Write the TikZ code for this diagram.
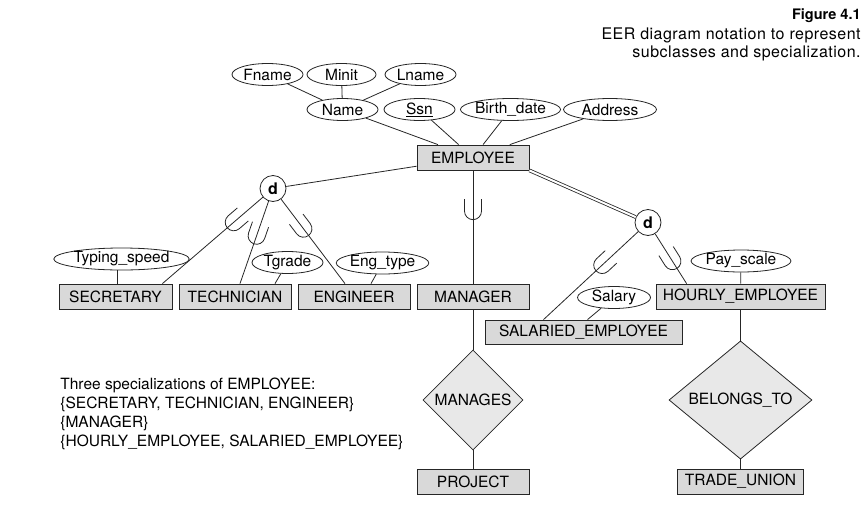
\documentclass[tikz,border=0pt]{standalone}
\usepackage{fontspec}
\setmainfont{TeX Gyre Heros}
\usetikzlibrary{shapes.geometric}

\tikzset{
	entity/.style={draw, fill=gray!30, minimum height=25pt, inner sep=0pt},
	attrib/.style={draw, ellipse, minimum height=22pt, inner sep=0pt},
	relship/.style={draw, diamond, fill=gray!18, minimum height=100pt, inner sep=0pt},
	disjoint/.style={draw, circle, fill=white, minimum size=26pt, inner sep=0pt, font=\fontsize{16}{18}\selectfont\bfseries},
	subsetmark/.pic={\draw (-12,8.5) -- (0,8.5) arc[start angle=90, end angle=-90, radius=8.5] -- (-12,-8.5);},
	subset/.style={pos=#1, sloped, allow upside down},
}

\begin{document}
\begin{tikzpicture}[x=1pt, y=-1pt, line width=0.8pt, draw=black!85, font=\fontsize{15.5}{18}\selectfont]
	\useasboundingbox (0,0) rectangle (865,509);
	%\draw[lightgray, step=50] (0,0) grid (865,509);
	% caption
	\node[anchor=north east, inner sep=0pt, font=\fontsize{14.5}{16}\selectfont\bfseries] (fig) at (861,8) {Figure 4.1};
	\node[anchor=north east, align=right, inner sep=0pt, font=\fontsize{16}{18}\selectfont\addfontfeature{LetterSpace=3}] (caption) at (861,27) {EER diagram notation to represent\\subclasses and specialization.};
	% employee and its attributes
	\node[entity, minimum width=112pt] (employee) at (473,157.5) {EMPLOYEE};
	\node[attrib, minimum width=71pt] (fname) at (267.5,74.5) {Fname};
	\node[attrib, minimum width=69pt] (minit) at (341.5,74.5) {Minit};
	\node[attrib, minimum width=71pt] (lname) at (420.5,74.5) {Lname};
	\node[attrib, minimum width=71pt] (name) at (342.5,109.5) {Name};
	\node[attrib, minimum width=71pt] (ssn) at (419.5,109.5) {\underline{Ssn}};
	\node[attrib, minimum width=99pt] (bdate) at (510.5,109.5) {Birth\_date};
	\node[attrib, minimum width=93pt] (address) at (610,109.5) {Address};
	\draw (fname) -- (name);
	\draw (minit) -- (name);
	\draw (lname) -- (name);
	\draw (name) -- (employee);
	\draw (ssn) -- (employee);
	\draw (bdate) -- (employee);
	\draw (address) -- (employee);
	% subclasses
	\node[disjoint] (d1) at (273,188.5) {d};
	\node[disjoint] (d2) at (648,222.5) {d};
	\node[entity, minimum width=113pt] (secretary) at (115.5,296.5) {SECRETARY};
	\node[entity, minimum width=112pt] (technician) at (235,296.5) {TECHNICIAN};
	\node[entity, minimum width=112pt] (engineer) at (354,296.5) {ENGINEER};
	\node[entity, minimum width=112pt] (manager) at (473,296.5) {MANAGER};
	\node[entity, minimum width=169pt] (hourly) at (740.5,296.5) {HOURLY\_EMPLOYEE};
	\node[entity, minimum width=197pt, minimum height=24pt] (salaried) at (583.5,332) {SALARIED\_EMPLOYEE};
	\node[attrib, minimum width=120pt] (typing) at (121.5,259) {Typing\_speed};
	\node[attrib, minimum width=71pt] (tgrade) at (287.5,262.5) {Tgrade};
	\node[attrib, minimum width=91pt] (engtype) at (382.5,263) {Eng\_type};
	\node[attrib, minimum width=93pt] (payscale) at (741,261) {Pay\_scale};
	\node[attrib, minimum width=73pt] (salary) at (614,297.5) {Salary};
	\draw (employee) -- (d1);
	\draw[double, double distance=2pt] (employee.south east) -- (d2);
	\draw (d1) -- pic[subset=.29]{subsetmark} ([xshift=-10pt]secretary.north east);
	\draw (d1) -- pic[subset=.42]{subsetmark} ([xshift=5pt]technician.north);
	\draw (d1) -- pic[subset=.35]{subsetmark} ([xshift=-9pt]engineer.north);
	\draw (employee) -- pic[subset=.36]{subsetmark} (manager);
	\draw (d2) -- pic[subset=.38]{subsetmark} ([xshift=-40pt]salaried.north);
	\draw (d2) -- pic[subset=.55]{subsetmark} ([xshift=31pt]hourly.north west);
	\draw ([xshift=-4pt]typing.south) -- ([xshift=2pt]secretary.north);
	\draw (tgrade) -- ([xshift=40pt]technician.north);
	\draw (engtype) -- ([xshift=17pt]engineer.north);
	\draw (payscale) -- (hourly);
	\draw (salary) -- ([xshift=4pt]salaried.north);
	% relationships
	\node[relship, minimum width=100pt] (manages) at (473,400) {MANAGES};
	\node[relship, minimum width=143pt] (belongs) at (740.5,400) {BELONGS\_TO};
	\node[entity, minimum width=112pt] (project) at (473,481.5) {PROJECT};
	\node[entity, minimum width=126pt] (union) at (740.5,481.5) {TRADE\_UNION};
	\draw (manager) -- (manages) -- (project);
	\draw (hourly) -- (belongs) -- (union);
	% note
	\node[anchor=north west, align=left, inner sep=0pt, font=\fontsize{15.5}{19}\selectfont] (note) at (60,378) {Three specializations of EMPLOYEE:\\\{SECRETARY, TECHNICIAN, ENGINEER\}\\\{MANAGER\}\\\{HOURLY\_EMPLOYEE, SALARIED\_EMPLOYEE\}};
\end{tikzpicture}
\end{document}
